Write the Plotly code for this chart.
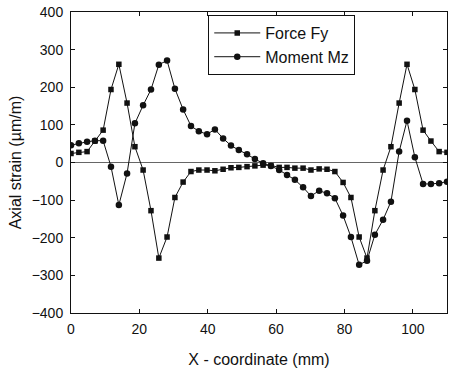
import plotly.graph_objects as go

x_mm = [0.0, 2.3, 4.7, 7.0, 9.4, 11.7, 14.0, 16.4, 18.7, 21.1, 23.4, 25.7,
        28.1, 30.4, 32.8, 35.1, 37.4, 39.8, 42.1, 44.5, 46.8, 49.1, 51.5, 53.8,
        56.2, 58.5, 60.9, 63.2, 65.5, 67.9, 70.2, 72.6, 74.9, 77.2, 79.6, 81.9,
        84.3, 86.6, 88.9, 91.3, 93.6, 96.0, 98.3, 100.6, 103.0, 105.3, 107.7, 110.0]

force_fy = [24, 27, 29, 57, 86, 194, 261, 158, 42, -20, -128, -254,
            -198, -93, -52, -24, -20, -20, -22, -18, -14, -13, -11, -9,
            -7, -8, -13, -13, -15, -15, -20, -17, -18, -24, -53, -93,
            -198, -254, -128, -20, 42, 158, 261, 194, 86, 57, 29, 27]

moment_mz = [46, 51, 55, 58, 58, -11, -113, -29, 104, 152, 194, 260,
             271, 196, 141, 97, 83, 75, 88, 64, 45, 33, 22, 9,
             -2, -9, -20, -33, -46, -66, -89, -75, -82, -95, -141, -198,
             -272, -261, -192, -152, -104, 29, 111, 14, -57, -57, -55, -51]

x_ticks = [0, 20, 40, 60, 80, 100]
y_ticks = [-400, -300, -200, -100, 0, 100, 200, 300, 400]

ink = "#111111"
fig = go.Figure()
fig.add_trace(go.Scatter(x=x_mm, y=force_fy, mode="lines+markers", name="Force Fy",
                         line=dict(color=ink, width=1),
                         marker=dict(symbol="square", size=5.5, color=ink)))
fig.add_trace(go.Scatter(x=x_mm, y=moment_mz, mode="lines+markers", name="Moment Mz",
                         line=dict(color=ink, width=1),
                         marker=dict(symbol="circle", size=6.5, color=ink)))

axis_common = dict(showline=True, linecolor=ink, linewidth=1, mirror="allticks",
                   ticks="inside", ticklen=4, tickcolor=ink, showgrid=False,
                   automargin=False, tickfont=dict(size=14, color=ink))
fig.update_xaxes(range=[0, 110], tickvals=x_ticks, zeroline=False,
                 ticklabelstandoff=3,
                 title=dict(text="X - coordinate (mm)", font=dict(size=16, color=ink), standoff=18),
                 **axis_common)
fig.update_yaxes(range=[-400, 400], tickvals=y_ticks, zeroline=True,
                 zerolinecolor="#666666", zerolinewidth=1,
                 title=dict(text="Axial strain (µm/m)", font=dict(size=16, color=ink), standoff=6),
                 ticklabelstandoff=4,
                 **axis_common)

fig.update_layout(
    width=452, height=368,
    margin=dict(l=71, r=5, t=12, b=55, autoexpand=False),
    paper_bgcolor="white", plot_bgcolor="white",
    font=dict(family="Liberation Sans, Arial, sans-serif", color=ink),
    showlegend=True,
    legend=dict(x=0.365, y=0.99, xanchor="left", yanchor="top",
                bgcolor="white", bordercolor=ink, borderwidth=1,
                itemwidth=46,
                font=dict(size=16, color=ink), tracegroupgap=0),
)

fig.write_html("out.html", config={"displayModeBar": False},
               post_script="document.body.style.margin='0';document.body.style.overflow='hidden';")
